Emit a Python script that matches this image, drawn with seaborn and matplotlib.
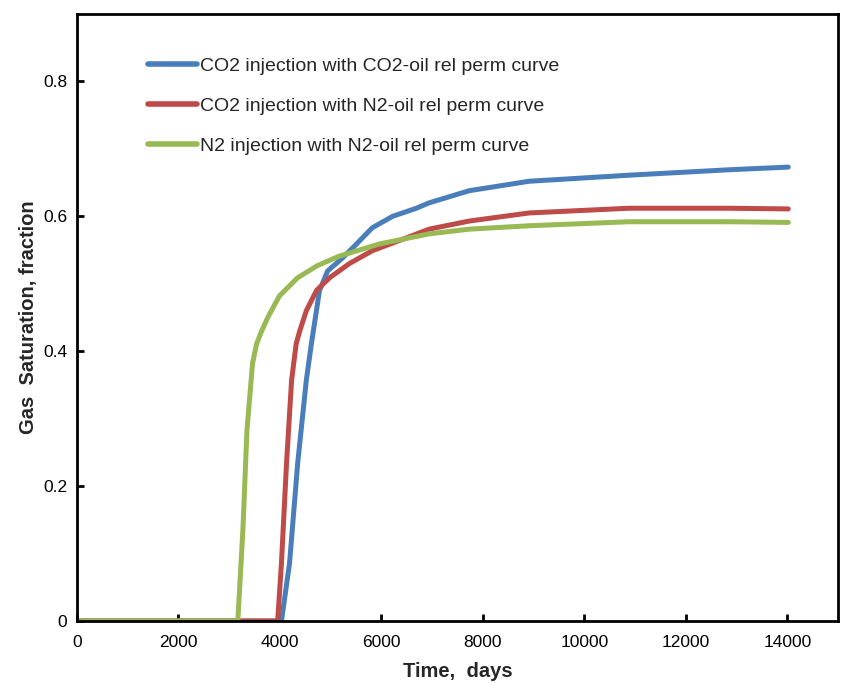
import numpy as np
import pandas as pd
import matplotlib
matplotlib.use("Agg")
import matplotlib.pyplot as plt
import seaborn as sns

labels = ["CO2 injection with CO2-oil rel perm curve",
          "CO2 injection with N2-oil rel perm curve",
          "N2 injection with N2-oil rel perm curve"]
colors = ["#4A7EBB", "#BE4B48", "#98B954"]

t_blue = [0, 4030, 4190, 4350, 4520, 4620, 4780, 4940, 5230, 5510, 5820, 6220, 6690,
          6940, 7730, 8910, 10880, 12840, 14020]
s_blue = [0, 0, 0.086, 0.234, 0.357, 0.411, 0.490, 0.519, 0.538, 0.559, 0.583, 0.600, 0.612,
          0.620, 0.638, 0.652, 0.661, 0.669, 0.673]

t_red = [0, 3955, 4030, 4130, 4230, 4320, 4390, 4520, 4720, 4980, 5370, 5820, 6490,
         6940, 7730, 8910, 10880, 12840, 14020]
s_red = [0, 0, 0.086, 0.234, 0.357, 0.411, 0.430, 0.460, 0.490, 0.509, 0.530, 0.549, 0.568,
         0.581, 0.593, 0.605, 0.612, 0.612, 0.611]

t_green = [0, 3170, 3270, 3350, 3460, 3540, 3640, 3760, 3990, 4350, 4740, 5170, 5960,
           6940, 7730, 8910, 10880, 12840, 14020]
s_green = [0, 0, 0.135, 0.283, 0.382, 0.411, 0.430, 0.450, 0.482, 0.509, 0.527, 0.541, 0.559,
           0.574, 0.581, 0.586, 0.592, 0.592, 0.591]

df = pd.concat([
    pd.DataFrame({"t": t_blue, "s": s_blue, "series": labels[0]}),
    pd.DataFrame({"t": t_red, "s": s_red, "series": labels[1]}),
    pd.DataFrame({"t": t_green, "s": s_green, "series": labels[2]}),
])

sns.set_style("white")
plt.rcParams["font.family"] = ["Liberation Sans", "DejaVu Sans"]

fig = plt.figure(figsize=(8.41, 6.83), dpi=100)
ax = fig.add_axes([77/841, 1-621/683, (838-77)/841, (621-14)/683])

sns.lineplot(data=df, x="t", y="s", hue="series", hue_order=labels,
             palette=colors, estimator=None, sort=True, linewidth=3.6,
             ax=ax, solid_capstyle="round", solid_joinstyle="round")

ax.set_xlim(0, 15000)
ax.set_ylim(0, 0.9)
ax.set_xticks(np.arange(0, 14001, 2000))
ax.set_yticks([0, 0.2, 0.4, 0.6, 0.8])
ax.set_yticklabels(["0", "0.2", "0.4", "0.6", "0.8"])
ax.tick_params(direction="in", length=5, width=2, labelsize=12.5, colors="black",
               left=True, bottom=True, top=False, right=False)
ax.tick_params(axis="x", pad=10)
ax.tick_params(axis="y", pad=7)
for sp in ax.spines.values():
    sp.set_visible(True)
    sp.set_color("black")
    sp.set_linewidth(2)

ax.set_xlabel("Time,  days", fontsize=14.5, fontweight="bold", labelpad=9)
ax.set_ylabel("Gas  Saturation, fraction", fontsize=14.5, fontweight="bold", labelpad=4)

leg = ax.legend(loc="upper left", bbox_to_anchor=(0.0703, 0.958), frameon=False,
                fontsize=14, handlelength=2.5, handletextpad=0.15, labelspacing=1.15)
for h in leg.get_lines():
    h.set_linewidth(4)

fig.savefig("out.png", dpi=100)
